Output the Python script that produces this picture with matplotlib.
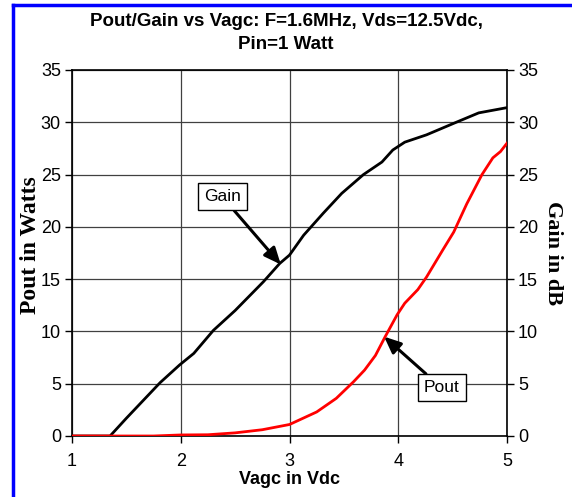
import matplotlib.pyplot as plt
from matplotlib.lines import Line2D

# Gain in dB vs Vagc
gain_v = [1.0, 1.35, 1.5, 1.81, 1.99, 2.12, 2.30, 2.50, 2.76, 2.91, 3.0, 3.13, 3.31,
          3.48, 3.68, 3.85, 3.95, 4.06, 4.26, 4.51, 4.74, 5.0]
gain_db = [0.0, 0.0, 1.7, 5.1, 6.8, 7.9, 10.1, 12.0, 14.75, 16.5, 17.3, 19.2, 21.3,
           23.2, 25.0, 26.2, 27.35, 28.1, 28.8, 29.9, 30.9, 31.4]

# Pout in Watts vs Vagc
pout_v = [1.0, 1.5, 1.75, 2.0, 2.25, 2.5, 2.75, 3.0, 3.25, 3.43, 3.59, 3.69, 3.79,
          3.88, 3.99, 4.06, 4.18, 4.26, 4.41, 4.51, 4.63, 4.77, 4.87, 4.94, 5.0]
pout_w = [0.0, 0.0, 0.0, 0.1, 0.12, 0.3, 0.6, 1.1, 2.3, 3.6, 5.2, 6.3, 7.7,
          9.5, 11.6, 12.7, 14.0, 15.2, 17.8, 19.5, 22.2, 25.0, 26.6, 27.2, 28.0]

xticks = [1, 2, 3, 4, 5]
yticks = [0, 5, 10, 15, 20, 25, 30, 35]

plt.rcParams['font.family'] = ['Liberation Sans', 'DejaVu Sans']

fig = plt.figure(figsize=(5.72, 4.97), dpi=100)
ax = fig.add_axes([72/572, 61/497, 435/572, 366/497])

ax.plot(gain_v, gain_db, color='black', lw=2, zorder=3)
ax.plot(pout_v, pout_w, color='red', lw=2, zorder=3)

ax.set_xlim(1, 5)
ax.set_ylim(0, 35)
ax.set_xticks(xticks)
ax.set_yticks(yticks)
ax.grid(True, color='#404040', lw=0.9)
ax.tick_params(labelsize=13, direction='out', length=5, width=1,
               right=True, labelright=True, pad=3)
ax.tick_params(axis='x', pad=7)
for s in ax.spines.values():
    s.set_linewidth(1.2)

ax.set_xlabel('Vagc in Vdc', fontsize=13, fontweight='bold', labelpad=1)
fig.text(30/572, 1 - 245/497, 'Pout in Watts', rotation=90, ha='center', va='center',
         fontsize=17, fontweight='bold', family='Liberation Serif')
fig.text(553/572, 1 - 253/497, 'Gain in dB', rotation=270, ha='center', va='center',
         fontsize=16, fontweight='bold', family='Liberation Serif')
fig.text(0.5, 1 - 33/497, 'Pout/Gain vs Vagc: F=1.6MHz, Vds=12.5Vdc,\nPin=1 Watt',
         ha='center', va='center', fontsize=13.5, fontweight='bold', linespacing=1.45)

box = dict(boxstyle='square,pad=0.35', fc='white', ec='black', lw=1)
arrow = dict(arrowstyle='-|>,head_length=0.8,head_width=0.35', color='black', lw=2.2,
             shrinkA=0, shrinkB=0)
ax.annotate('Gain', xy=(2.92, 16.4), xytext=(2.38, 22.9), fontsize=12.5,
            ha='center', va='center', bbox=box, arrowprops=arrow, zorder=5)
ax.annotate('Pout', xy=(3.87, 9.5), xytext=(4.40, 4.6), fontsize=12.5,
            ha='center', va='center', bbox=box, arrowprops=arrow, zorder=5)

# blue frame on left and top
fig.add_artist(Line2D([13/572, 13/572], [0, 1 - 5/497], color='blue', lw=2.5,
                      transform=fig.transFigure))
fig.add_artist(Line2D([13/572, 1], [1 - 5/497, 1 - 5/497], color='blue', lw=2.5,
                      transform=fig.transFigure))

fig.savefig('out.png', dpi=100)
